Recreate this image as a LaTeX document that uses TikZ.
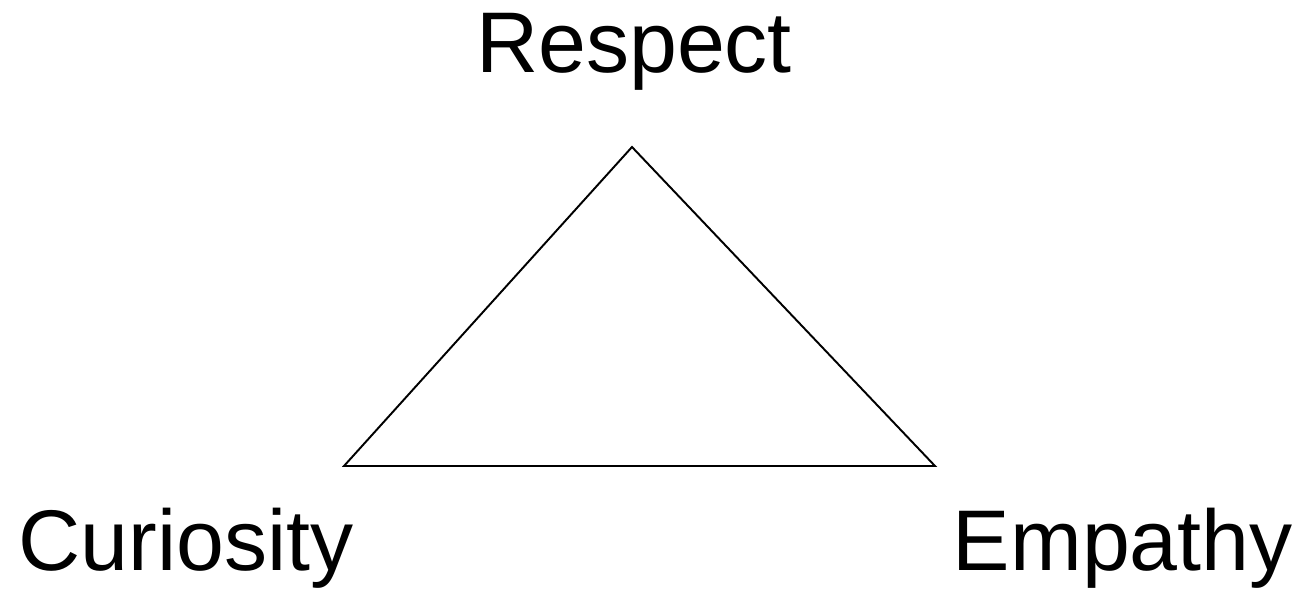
\documentclass[tikz,border=0pt]{standalone}
\usepackage{fontspec}
\setmainfont{Liberation Sans}
\usetikzlibrary{positioning}

\begin{document}
\begin{tikzpicture}[
  value/.style={font=\fontsize{49}{58}\selectfont, inner sep=0pt},
  edge/.style={draw=black, line width=1.1pt}
]
\useasboundingbox (0,0) rectangle (25.94,11.8);

% Triangle corners
\coordinate (top) at (12.64,8.86);
\coordinate (left) at (6.88,2.48);
\coordinate (right) at (18.7,2.48);

\draw[edge] (top) -- (right) -- (left) -- cycle;

% Labels
\node[value, anchor=base] (respect) at (12.68,10.34) {Respect};
\node[value, anchor=base west] (curiosity) at (0.36,0.4) {Curiosity};
\node[value, anchor=base east] (empathy) at (25.86,0.4) {Empathy};
\end{tikzpicture}
\end{document}
